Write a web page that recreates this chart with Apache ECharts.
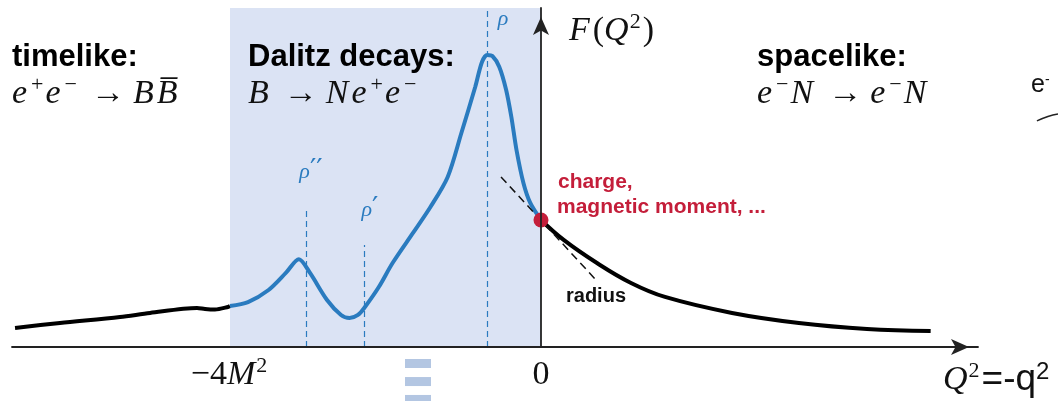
<!DOCTYPE html>
<html>
<head>
<meta charset="utf-8">
<script src="https://cdn.jsdelivr.net/npm/echarts@6/dist/echarts.min.js"></script>
<style>
html, body { margin: 0; padding: 0; background: #fff; }
#chart { width: 1058px; height: 401px; }
</style>
</head>
<body>
<div id="chart"></div>
<script>
// x in units of M^2 (0 = photon point, -4 = threshold), y = F normalised to F(0)=1
const timelikeX = [-6.765, -6.187, -5.415, -5.029, -4.424, -4.322, -4.193, -4.026, -4.0];
const timelikeY = [0.150, 0.189, 0.236, 0.268, 0.307, 0.299, 0.295, 0.315, 0.323];

const dalitzX = [-4.0, -3.768, -3.504, -3.282, -3.114, -2.971, -2.752, -2.572, -2.463, -2.354,
    -2.264, -2.086, -1.909, -1.646, -1.422, -1.200, -1.024, -0.846, -0.759, -0.691,
    -0.625, -0.536, -0.448, -0.381, -0.315, -0.226, -0.138, 0];
const dalitzY = [0.323, 0.354, 0.449, 0.583, 0.691, 0.583, 0.370, 0.252, 0.228, 0.252,
    0.315, 0.472, 0.661, 0.898, 1.102, 1.339, 1.685, 2.047, 2.244, 2.299,
    2.291, 2.205, 2.024, 1.811, 1.551, 1.291, 1.134, 1.0];

const spacelikeX = [0, 0.292, 0.720, 1.158, 1.595, 2.457, 3.318, 4.193, 5.012];
const spacelikeY = [1.0, 0.843, 0.661, 0.504, 0.394, 0.268, 0.189, 0.142, 0.126];

// rho'', rho', rho resonance positions and the height of their dashed markers
const resonanceX = [-3.016, -2.277, -0.691];
const resonanceTop = [1.079, 0.803, 2.669];

const radiusTangentX = [-0.514, 0.707];
const radiusTangentY = [1.339, 0.528];

const photonPoint = [0, 1.0];
const dalitzRange = [-4, 0];
const regionTop = 2.669;

const tickValues = [-4, 0];
const tickLabels = ['{r|−4}{m|M}{s|2}', '{r|0}'];

const barsX = [-1.582, -1.582, -1.582];
const barsY = [-0.130, -0.272, -0.413];

const edgeLineX = [6.379, 6.52, 6.650];
const edgeLineY = [1.780, 1.815, 1.835];

const serif = 'Liberation Serif';
const sans = 'Liberation Sans';
const blue = '#2a7bbf';
const red = '#c41e3a';
const ink = '#111';

const mathRich = {
    m: { fontFamily: serif, fontStyle: 'italic', fontSize: 34, lineHeight: 40, color: ink, fill: ink },
    e: { fontFamily: serif, fontStyle: 'italic', fontSize: 34, lineHeight: 40, color: ink, fill: ink, padding: [0, 3, 0, 0] },
    r: { fontFamily: serif, fontSize: 34, lineHeight: 40, color: ink, fill: ink },
    a: { fontFamily: serif, fontSize: 34, lineHeight: 40, color: ink, fill: ink, padding: [0, 8, 0, 12] },
    s: { fontFamily: serif, fontSize: 22, lineHeight: 26, verticalAlign: 'top', color: ink, fill: ink, padding: [0, 2, 0, 1] },
    q: { fontFamily: sans, fontSize: 37, lineHeight: 40, color: ink, fill: ink },
    qs: { fontFamily: sans, fontSize: 24, lineHeight: 26, verticalAlign: 'top', color: ink, fill: ink }
};
const rhoRich = {
    p: { fontFamily: serif, fontStyle: 'italic', fontSize: 22, lineHeight: 24, fill: blue },
    pr: { fontFamily: 'DejaVu Sans', fontSize: 28, lineHeight: 24, fill: blue }
};

const zip = (xs, ys) => xs.map((x, i) => [x, ys[i]]);
const headFont = 'bold 31px "Liberation Sans"';

const myChart = echarts.init(document.getElementById('chart'));

myChart.setOption({
    animation: false,
    grid: [
        { left: 12, right: 80, top: 8, bottom: 54 },
        { left: 12, right: 0, top: 8, bottom: 54 }
    ],
    xAxis: [
        {
            type: 'value',
            min: -6.804,
            max: 5.621,
            z: 10,
            splitLine: { show: false },
            axisTick: { show: false },
            axisLine: {
                lineStyle: { color: '#222', width: 1.8 },
                symbol: ['none', 'arrow'],
                symbolSize: [12, 18],
                symbolOffset: [0, -9]
            },
            axisLabel: {
                customValues: tickValues,
                margin: 8,
                formatter: v => tickLabels[tickValues.indexOf(v)],
                rich: mathRich
            },
            name: '{m|Q}{s|2}{q|=-q}{qs|2}',
            nameLocation: 'end',
            nameGap: -35,
            nameTextStyle: { align: 'left', verticalAlign: 'top', padding: [13, 0, 0, 0], rich: mathRich }
        },
        { gridIndex: 1, type: 'value', min: -6.804, max: 6.650, show: false }
    ],
    yAxis: [
        {
            type: 'value',
            min: 0,
            max: regionTop,
            z: 10,
            splitLine: { show: false },
            axisTick: { show: false },
            axisLabel: { show: false },
            axisLine: {
                onZero: true,
                lineStyle: { color: '#222', width: 1.8 },
                symbol: ['none', 'arrow'],
                symbolSize: [12, 18],
                symbolOffset: [0, -9]
            },
            name: '{e|F}{r|(}{m|Q}{s|2}{r|)}',
            nameLocation: 'end',
            nameGap: -3,
            nameTextStyle: { align: 'left', verticalAlign: 'top', padding: [0, 0, 0, 28], rich: mathRich }
        },
        { gridIndex: 1, type: 'value', min: 0, max: regionTop, show: false }
    ],
    series: [
        {
            name: 'timelike',
            type: 'line',
            data: zip(timelikeX, timelikeY),
            showSymbol: false,
            smooth: 0.3,
            lineStyle: { color: '#000', width: 4 },
            z: 3,
            markArea: {
                silent: true,
                itemStyle: { color: '#dbe3f4' },
                data: [[{ coord: [dalitzRange[0], 0] }, { coord: [dalitzRange[1], regionTop] }]]
            }
        },
        {
            name: 'resonances',
            type: 'line',
            data: [],
            markLine: {
                silent: true,
                symbol: ['none', 'none'],
                label: { show: false },
                lineStyle: { color: blue, width: 1.2, type: [6, 4] },
                data: resonanceX.map((x, i) => [{ coord: [x, 0] }, { coord: [x, resonanceTop[i]] }])
            }
        },
        {
            name: 'dalitz',
            type: 'line',
            data: zip(dalitzX, dalitzY),
            showSymbol: false,
            smooth: 0.3,
            lineStyle: { color: blue, width: 4 },
            z: 4
        },
        {
            name: 'spacelike',
            type: 'line',
            data: zip(spacelikeX, spacelikeY),
            showSymbol: false,
            smooth: 0.4,
            lineStyle: { color: '#000', width: 4 },
            z: 4
        },
        {
            name: 'radius',
            type: 'line',
            data: zip(radiusTangentX, radiusTangentY),
            showSymbol: false,
            lineStyle: { color: ink, width: 1.5, type: [8, 5] },
            z: 5
        },
        {
            name: 'photon point',
            type: 'scatter',
            data: [photonPoint],
            symbolSize: 15,
            itemStyle: { color: red, opacity: 1 },
            z: 6
        },
        {
            name: 'bars',
            type: 'scatter',
            data: zip(barsX, barsY),
            symbol: 'rect',
            symbolSize: [26, 9],
            clip: false,
            itemStyle: { color: '#b3c6e2', opacity: 1 }
        },
        {
            name: 'edge',
            type: 'line',
            xAxisIndex: 1,
            yAxisIndex: 1,
            data: zip(edgeLineX, edgeLineY),
            showSymbol: false,
            smooth: true,
            lineStyle: { color: '#222', width: 1.5 }
        }
    ],
    graphic: [
        { type: 'text', z: 100, x: 12, y: 57, style: { text: 'timelike:', font: headFont, fill: '#000', verticalAlign: 'middle' } },
        { type: 'text', z: 100, x: 248, y: 57, style: { text: 'Dalitz decays:', font: headFont, fill: '#000', verticalAlign: 'middle' } },
        { type: 'text', z: 100, x: 757, y: 57, style: { text: 'spacelike:', font: headFont, fill: '#000', verticalAlign: 'middle' } },
        { type: 'text', z: 100, x: 12, y: 74, style: { text: '{e|e}{s|+}{e|e}{s|−}{a|→}{e|B}{e|B\u0305}', rich: mathRich, verticalAlign: 'top' } },
        { type: 'text', z: 100, x: 248, y: 74, style: { text: '{e|B}{a|→}{e|N}{e|e}{s|+}{e|e}{s|−}', rich: mathRich, verticalAlign: 'top' } },
        { type: 'text', z: 100, x: 757, y: 74, style: { text: '{e|e}{s|−}{e|N}{a|→}{e|e}{s|−}{e|N}', rich: mathRich, verticalAlign: 'top' } },
        { type: 'text', z: 100, x: 558, y: 182, style: { text: 'charge,', font: 'bold 21px "Liberation Sans"', fill: red, verticalAlign: 'middle' } },
        { type: 'text', z: 100, x: 557, y: 207, style: { text: 'magnetic moment, ...', font: 'bold 21px "Liberation Sans"', fill: red, verticalAlign: 'middle' } },
        { type: 'text', z: 100, x: 566, y: 296, style: { text: 'radius', font: 'bold 20px "Liberation Sans"', fill: ink, verticalAlign: 'middle' } },
        { type: 'text', z: 100, x: 311, y: 172, style: { text: '{p|ρ}{pr|′′}', rich: rhoRich, align: 'center', verticalAlign: 'middle' } },
        { type: 'text', z: 100, x: 370, y: 210, style: { text: '{p|ρ}{pr|′}', rich: rhoRich, align: 'center', verticalAlign: 'middle' } },
        { type: 'text', z: 100, x: 503, y: 19, style: { text: '{p|ρ}', rich: rhoRich, align: 'center', verticalAlign: 'middle' } },
        { type: 'text', z: 100, x: 1031, y: 85, style: { text: 'e', font: '25px "Liberation Sans"', fill: ink, verticalAlign: 'middle' } },
        { type: 'text', z: 100, x: 1045, y: 80, style: { text: '-', font: '14px "Liberation Sans"', fill: ink, verticalAlign: 'middle' } }
    ]
});
</script>
</body>
</html>
